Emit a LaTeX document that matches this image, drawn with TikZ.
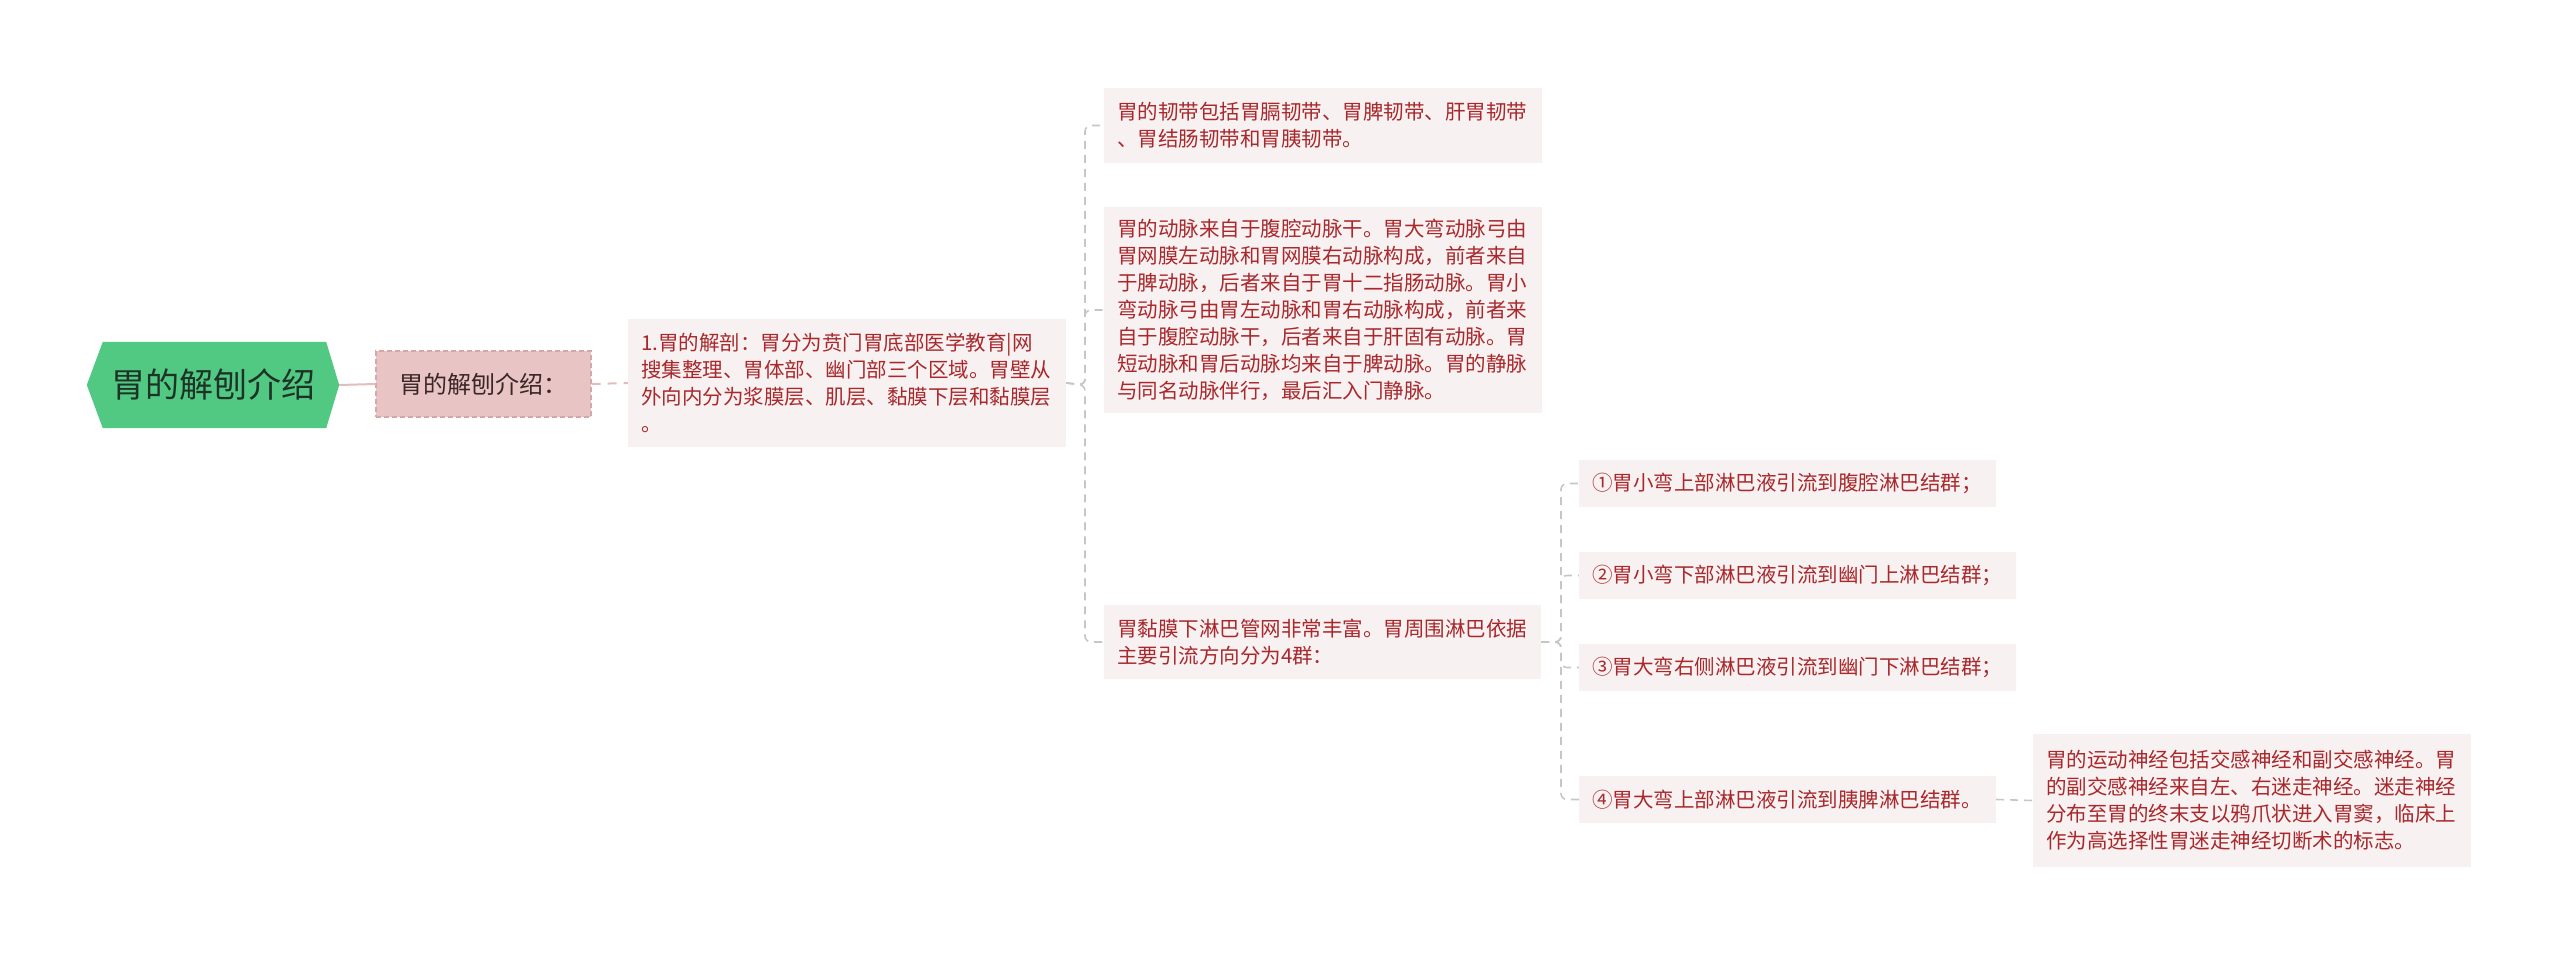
\documentclass[tikz,border=0pt]{standalone}
\usepackage{fontspec}
\setmainfont{Noto Sans CJK SC}
\definecolor{rootgreen}{HTML}{52C982}
\definecolor{roottext}{HTML}{1E3327}
\definecolor{lonefill}{HTML}{E8C4C4}
\definecolor{loneborder}{HTML}{D7A6A6}
\definecolor{lonetext}{HTML}{3A2626}
\definecolor{boxfill}{HTML}{F8F1F1}
\definecolor{boxtext}{HTML}{A8282C}
\definecolor{pinkline}{HTML}{E3BCBC}
\definecolor{grayline}{HTML}{C6C6C6}
\pgfdeclarelayer{bg}
\pgfsetlayers{bg,main}
\begin{document}
\begin{tikzpicture}[x=1pt,y=-1pt,
  rootnode/.style={text=roottext, font=\fontsize{34}{40}\selectfont, minimum width=252pt, minimum height=86pt, inner sep=0pt},
  lonenode/.style={fill=lonefill, draw=loneborder, dashed, dash pattern=on 5pt off 3pt, line width=1.2pt, text=lonetext, font=\fontsize{24}{30}\selectfont, minimum width=215pt, minimum height=66pt, inner sep=0pt},
  box/.style={fill=boxfill, text=boxtext, inner xsep=13pt, inner ysep=0pt, align=left, font=\fontsize{20.5}{27}\selectfont},
  pinkconn/.style={draw=pinkline, line width=2pt},
  pinkdash/.style={draw=pinkline, line width=2pt, dash pattern=on 9pt off 7pt},
  grayconn/.style={draw=grayline, line width=1.6pt, dash pattern=on 8pt off 6pt, rounded corners=6pt}
]
\useasboundingbox (0,0) rectangle (2560,953);

% root
\node[rootnode] (root) at (213,385) {胃的解刨介绍};
\begin{pgfonlayer}{bg}
\fill[rootgreen] (root.west) -- ([xshift=16pt]root.north west) -- ([xshift=-13pt]root.north east) -- (root.east) -- ([xshift=-13pt]root.south east) -- ([xshift=16pt]root.south west) -- cycle;
\end{pgfonlayer}

% level 1
\node[lonenode] (l1) at (483.5,384) {胃的解刨介绍：};

% level 2
\node[box, text width=412pt, minimum height=128pt] (l2) at (847,383) {1.胃的解剖：胃分为贲门胃底部医学教育|网\\搜集整理、胃体部、幽门部三个区域。胃壁从\\外向内分为浆膜层、肌层、黏膜下层和黏膜层\\。};

% level 3
\node[box, text width=412pt, minimum height=75pt] (l3a) at (1323,125.5) {胃的韧带包括胃膈韧带、胃脾韧带、肝胃韧带\\、胃结肠韧带和胃胰韧带。};
\node[box, text width=412pt, minimum height=206pt] (l3b) at (1323,310) {胃的动脉来自于腹腔动脉干。胃大弯动脉弓由\\胃网膜左动脉和胃网膜右动脉构成，前者来自\\于脾动脉，后者来自于胃十二指肠动脉。胃小\\弯动脉弓由胃左动脉和胃右动脉构成，前者来\\自于腹腔动脉干，后者来自于肝固有动脉。胃\\短动脉和胃后动脉均来自于脾动脉。胃的静脉\\与同名动脉伴行，最后汇入门静脉。};
\node[box, text width=411pt, minimum height=74pt] (l3c) at (1322.5,642) {胃黏膜下淋巴管网非常丰富。胃周围淋巴依据\\主要引流方向分为4群：};

% level 4
\node[box, text width=391pt, minimum height=47pt] (l4a) at (1787.5,483.5) {①胃小弯上部淋巴液引流到腹腔淋巴结群；};
\node[box, text width=411pt, minimum height=47pt] (l4b) at (1797.5,575.5) {②胃小弯下部淋巴液引流到幽门上淋巴结群；};
\node[box, text width=411pt, minimum height=47pt] (l4c) at (1797.5,667.5) {③胃大弯右侧淋巴液引流到幽门下淋巴结群；};
\node[box, text width=391pt, minimum height=47pt] (l4d) at (1787.5,799.5) {④胃大弯上部淋巴液引流到胰脾淋巴结群。};

% level 5
\node[box, text width=412pt, minimum height=133pt] (l5) at (2252,800.5) {胃的运动神经包括交感神经和副交感神经。胃\\的副交感神经来自左、右迷走神经。迷走神经\\分布至胃的终末支以鸦爪状进入胃窦，临床上\\作为高选择性胃迷走神经切断术的标志。};

% junctions
\coordinate (j1) at (1085,385);
\coordinate (j2) at (1561,642);

% connectors
\draw[pinkconn] (root.east) -- (l1.west);
\draw[pinkdash] (l1.east) -- (l2.west);
\draw[grayconn] (l2.east) -- (j1) |- (l3a.west);
\draw[grayconn] (l2.east) -- (j1) |- (l3b.west);
\draw[grayconn] (l2.east) -- (j1) |- (l3c.west);
\draw[grayconn] (l3c.east) -- (j2) |- (l4a.west);
\draw[grayconn] (l3c.east) -- (j2) |- (l4b.west);
\draw[grayconn] (l3c.east) -- (j2) |- (l4c.west);
\draw[grayconn] (l3c.east) -- (j2) |- (l4d.west);
\draw[grayconn] (l4d.east) -- (l5.west);
\end{tikzpicture}
\end{document}
